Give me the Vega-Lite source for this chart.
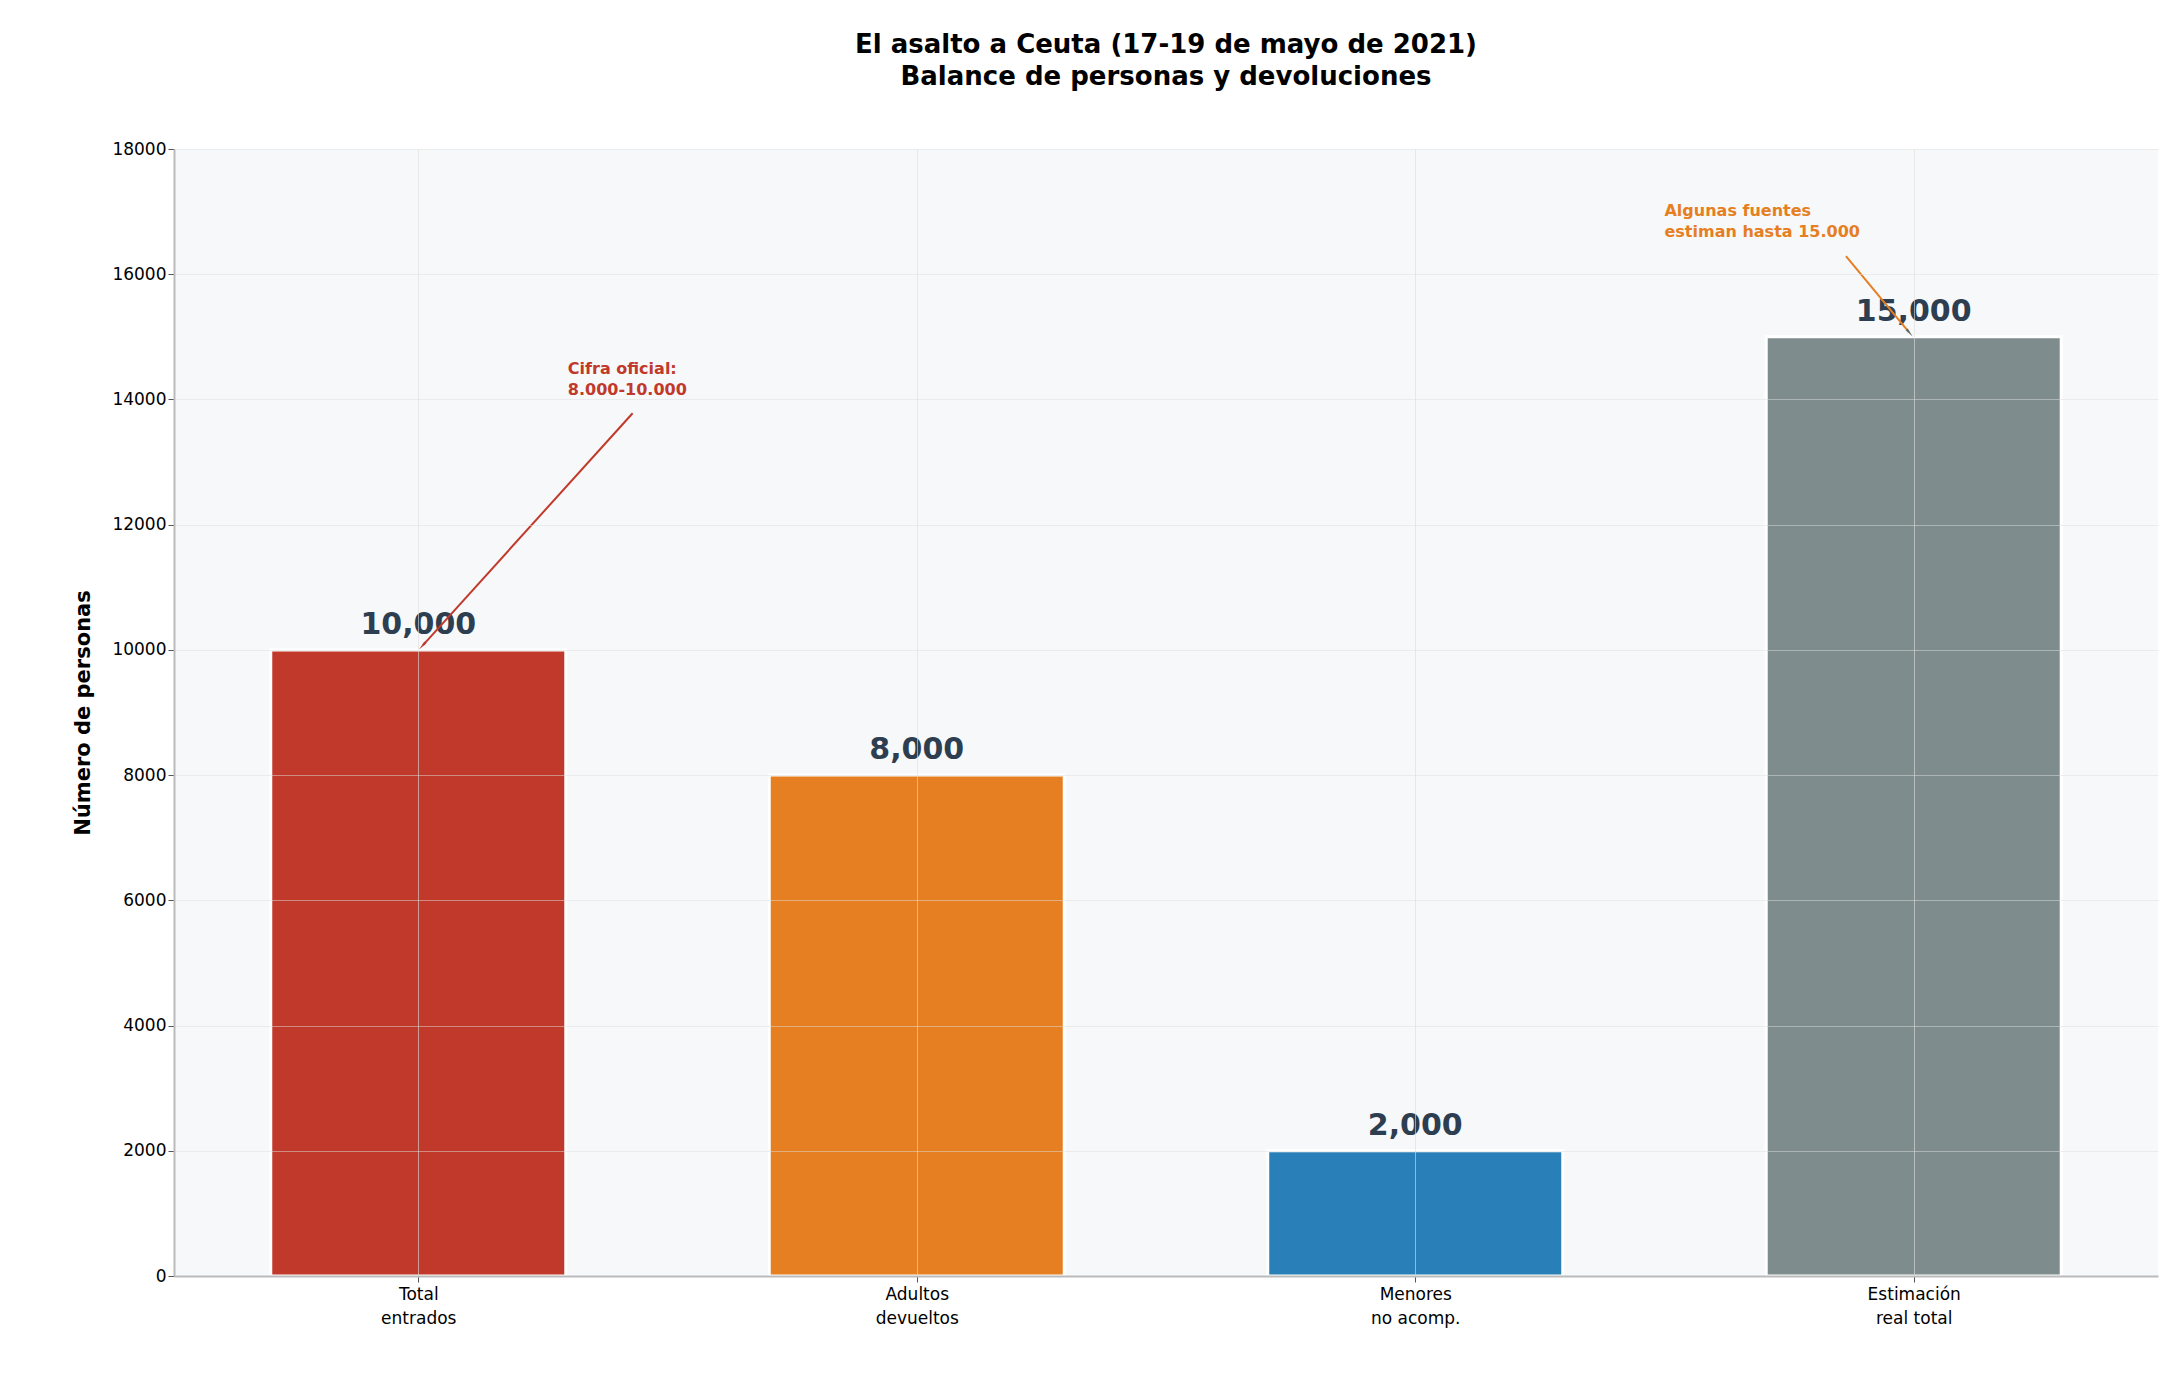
{
"$schema":"https://vega.github.io/schema/vega-lite/v6.json",
"width":1984,"height":1127,
"autosize":{"type":"none"},
"padding":{"left":174,"top":149,"right":14,"bottom":97},
"background":"white",
"config":{"font":"DejaVu Sans","view":{"fill":"#f7f8fa","stroke":null}},
"title":{"text":["El asalto a Ceuta (17-19 de mayo de 2021)","Balance de personas y devoluciones"],"fontSize":26,"fontWeight":"bold","color":"black","offset":50,"lineHeight":32,"anchor":"middle"},
"datasets":{
"bars":[
{"idx":0,"cat":"Total entrados","valor":10000},
{"idx":1,"cat":"Adultos devueltos","valor":8000},
{"idx":2,"cat":"Menores no acomp.","valor":2000},
{"idx":3,"cat":"Estimación real total","valor":15000}],
"arrows":[
{"serie":"oficial","x1":0.43,"y1":13780,"x2":0.01,"y2":10080},
{"serie":"fuentes","x1":2.864,"y1":16290,"x2":2.99,"y2":15080}],
"notes":[
{"serie":"oficial","x":0.30,"y":14620,"t":["Cifra oficial:","8.000-10.000"]},
{"serie":"fuentes","x":2.50,"y":17130,"t":["Algunas fuentes","estiman hasta 15.000"]}]
},
"layer":[
{"data":{"name":"bars"},"mark":{"type":"bar","size":295,"stroke":"white","strokeWidth":3},
"encoding":{
"x":{"field":"idx","type":"quantitative","scale":{"domain":[-0.48,3.48],"nice":false,"zero":false},
"axis":{"values":[0,1,2,3],"title":null,"labelExpr":"[['Total','entrados'],['Adultos','devueltos'],['Menores','no acomp.'],['Estimación','real total']][datum.value]","labelFontSize":17,"labelColor":"black","labelLineHeight":24,"domainColor":"#bbbbbb","domainWidth":2,"tickColor":"#555","tickSize":6,"grid":true,"gridColor":"#dddddd","gridOpacity":0.6,"zindex":1,"labelPadding":4}},
"y":{"field":"valor","type":"quantitative","scale":{"domain":[0,18000],"nice":false},
"axis":{"values":[0,2000,4000,6000,8000,10000,12000,14000,16000,18000],"format":"d","title":"Número de personas","titleFontSize":21,"titleFontWeight":"bold","titleColor":"black","titlePadding":18,"labelFontSize":17,"labelColor":"black","domainColor":"#bbbbbb","domainWidth":2,"tickColor":"#555","tickSize":6,"gridColor":"#dddddd","gridOpacity":0.5,"zindex":1}},
"color":{"field":"cat","type":"nominal","legend":null,"scale":{"domain":["Total entrados","Adultos devueltos","Menores no acomp.","Estimación real total"],"range":["#c0392b","#e67e22","#2980b9","#7f8c8d"]}}}},
{"data":{"name":"bars"},"mark":{"type":"text","baseline":"bottom","dy":-10,"fontSize":30,"fontWeight":"bold","color":"#2c3e50"},
"encoding":{"x":{"field":"idx","type":"quantitative"},"y":{"field":"valor","type":"quantitative"},"text":{"field":"valor","type":"quantitative","format":","}}},
{"data":{"name":"arrows"},"mark":{"type":"rule","strokeWidth":2},
"encoding":{"x":{"field":"x1","type":"quantitative"},"y":{"field":"y1","type":"quantitative"},"x2":{"field":"x2"},"y2":{"field":"y2"},
"color":{"field":"serie","type":"nominal","legend":null,"scale":{"domain":["oficial","fuentes"],"range":["#c0392b","#5d6d6e"]}}}},
{"data":{"name":"arrows"},"transform":[{"filter":"datum.serie=='oficial'"}],"mark":{"type":"point","shape":"wedge","filled":true,"size":120,"angle":222,"color":"#c0392b","opacity":1},
"encoding":{"x":{"field":"x2","type":"quantitative"},"y":{"field":"y2","type":"quantitative"}}},
{"data":{"name":"arrows"},"transform":[{"filter":"datum.serie=='fuentes'"}],"mark":{"type":"point","shape":"wedge","filled":true,"size":120,"angle":140,"color":"#5d6d6e","opacity":1},
"encoding":{"x":{"field":"x2","type":"quantitative"},"y":{"field":"y2","type":"quantitative"}}},
{"data":{"name":"notes"},"mark":{"type":"text","align":"left","baseline":"top","fontSize":16,"fontWeight":"bold","lineHeight":21},
"encoding":{"x":{"field":"x","type":"quantitative"},"y":{"field":"y","type":"quantitative"},"text":{"field":"t"},
"color":{"field":"serie","type":"nominal","legend":null,"scale":{"domain":["oficial","fuentes"],"range":["#c0392b","#7f8c8d"]}}}}
]
}
